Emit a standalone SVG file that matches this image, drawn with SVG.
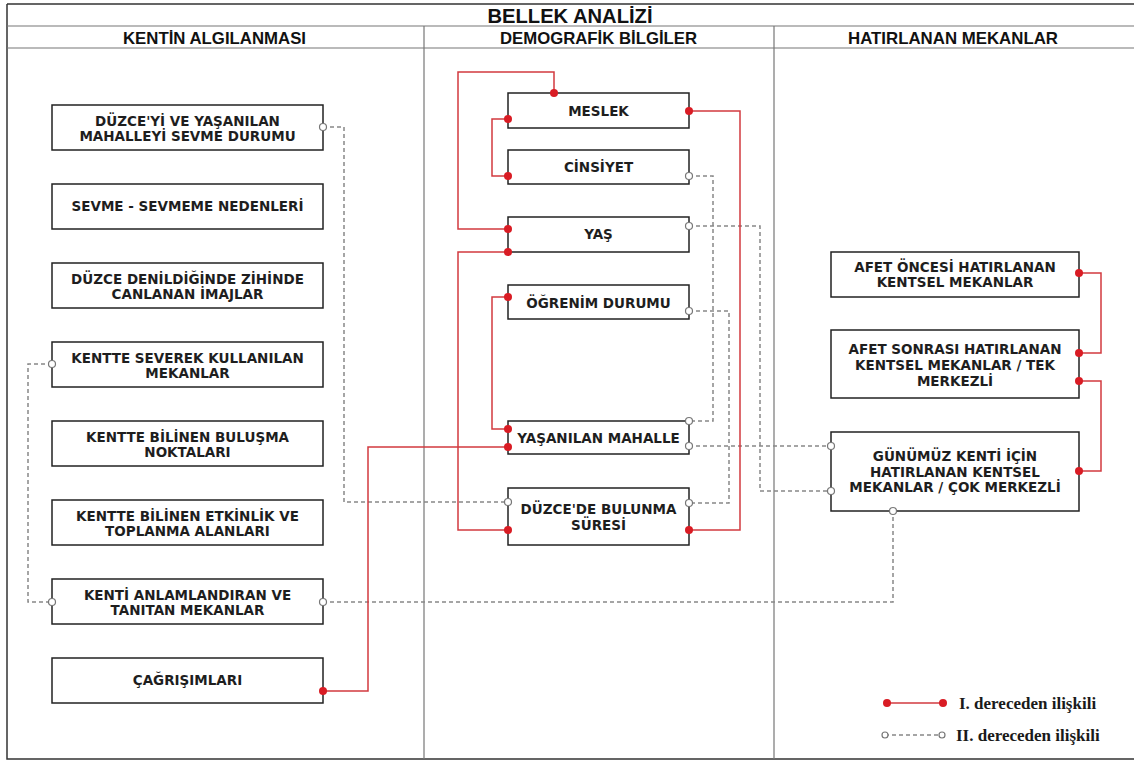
<svg xmlns="http://www.w3.org/2000/svg" width="1134" height="761" viewBox="0 0 1134 761">
<defs>
<style>
.frame{stroke:#333;stroke-width:1.5;fill:none}
.grid{stroke:#777;stroke-width:1.2;fill:none}
.hdr{font-family:"Liberation Sans",Arial,sans-serif;font-weight:bold;fill:#111;text-anchor:middle}
.box{fill:#fff;stroke:#222;stroke-width:1.5}
.lbl{font-family:"DejaVu Sans",Verdana,sans-serif;font-weight:bold;font-size:13.5px;fill:#1e1e1e;text-anchor:middle}
.red{stroke:#d23a3f;stroke-width:1.5;fill:none}
.dash{stroke:#888;stroke-width:1.5;fill:none;stroke-dasharray:4 3}
.rdot{fill:#d91c24}
.odot{fill:#fff;stroke:#777;stroke-width:1.2}
.leg{font-family:"Liberation Serif","Times New Roman",serif;font-weight:bold;font-size:17px;fill:#1a1a1a}
</style>
</defs>
<rect width="1134" height="761" fill="#fff"/>
<g id="frame">
<path class="frame" d="M7,4 H1134 M7,4 V759 H1134"/>
<path class="grid" d="M7,26 H1134 M7,48 H1134 M424,26 V759 M774,26 V759"/>
<text class="hdr" x="570" y="23" font-size="19.5" textLength="165" lengthAdjust="spacingAndGlyphs">BELLEK ANALİZİ</text>
<text class="hdr" x="214.5" y="44" font-size="16.5" textLength="183" lengthAdjust="spacingAndGlyphs">KENTİN ALGILANMASI</text>
<text class="hdr" x="598.5" y="44" font-size="16.5" textLength="197" lengthAdjust="spacingAndGlyphs">DEMOGRAFİK BİLGİLER</text>
<text class="hdr" x="953" y="44" font-size="16.5" textLength="210" lengthAdjust="spacingAndGlyphs">HATIRLANAN MEKANLAR</text>
</g>
<g id="n-sevme-durumu"><rect class="box" x="52" y="105" width="271" height="45"/><text class="lbl" x="187.5" y="125.5">DÜZCE'Yİ VE YAŞANILAN</text><text class="lbl" x="187.5" y="140.5">MAHALLEYİ SEVME DURUMU</text></g>
<g id="n-sevme-nedenleri"><rect class="box" x="52" y="184" width="271" height="45"/><text class="lbl" x="187.5" y="211">SEVME - SEVMEME NEDENLERİ</text></g>
<g id="n-imajlar"><rect class="box" x="52" y="263" width="271" height="45"/><text class="lbl" x="187.5" y="283.5">DÜZCE DENİLDİĞİNDE ZİHİNDE</text><text class="lbl" x="187.5" y="298.5">CANLANAN İMAJLAR</text></g>
<g id="n-severek"><rect class="box" x="52" y="342" width="271" height="45"/><text class="lbl" x="187.5" y="362.5">KENTTE SEVEREK KULLANILAN</text><text class="lbl" x="187.5" y="377.5">MEKANLAR</text></g>
<g id="n-bulusma"><rect class="box" x="52" y="421" width="271" height="45"/><text class="lbl" x="187.5" y="441.5">KENTTE BİLİNEN BULUŞMA</text><text class="lbl" x="187.5" y="456.5">NOKTALARI</text></g>
<g id="n-etkinlik"><rect class="box" x="52" y="500" width="271" height="45"/><text class="lbl" x="187.5" y="520.5">KENTTE BİLİNEN ETKİNLİK VE</text><text class="lbl" x="187.5" y="535.5">TOPLANMA ALANLARI</text></g>
<g id="n-anlamlandiran"><rect class="box" x="52" y="579" width="271" height="45"/><text class="lbl" x="187.5" y="599.5">KENTİ ANLAMLANDIRAN VE</text><text class="lbl" x="187.5" y="614.5">TANITAN MEKANLAR</text></g>
<g id="n-cagrisimlari"><rect class="box" x="52" y="658" width="271" height="45"/><text class="lbl" x="187.5" y="685">ÇAĞRIŞIMLARI</text></g>
<g id="n-meslek"><rect class="box" x="508" y="93" width="181" height="35"/><text class="lbl" x="598.5" y="115.5">MESLEK</text></g>
<g id="n-cinsiyet"><rect class="box" x="508" y="150" width="181" height="34"/><text class="lbl" x="598.5" y="171.5">CİNSİYET</text></g>
<g id="n-yas"><rect class="box" x="508" y="217" width="181" height="35"/><text class="lbl" x="598.5" y="238.5">YAŞ</text></g>
<g id="n-ogrenim"><rect class="box" x="508" y="285" width="181" height="34"/><text class="lbl" x="598.5" y="307.5">ÖĞRENİM DURUMU</text></g>
<g id="n-mahalle"><rect class="box" x="508" y="421" width="181" height="33"/><text class="lbl" x="598.5" y="442.5">YAŞANILAN MAHALLE</text></g>
<g id="n-sure"><rect class="box" x="508" y="488" width="181" height="57"/><text class="lbl" x="598.5" y="514">DÜZCE'DE BULUNMA</text><text class="lbl" x="598.5" y="530">SÜRESİ</text></g>
<g id="n-afet-oncesi"><rect class="box" x="831" y="252" width="248" height="45"/><text class="lbl" x="955" y="271.5">AFET ÖNCESİ HATIRLANAN</text><text class="lbl" x="955" y="286.5">KENTSEL MEKANLAR</text></g>
<g id="n-afet-sonrasi"><rect class="box" x="831" y="330" width="248" height="68"/><text class="lbl" x="955" y="354">AFET SONRASI HATIRLANAN</text><text class="lbl" x="955" y="370">KENTSEL MEKANLAR / TEK</text><text class="lbl" x="955" y="386">MERKEZLİ</text></g>
<g id="n-gunumuz"><rect class="box" x="831" y="432" width="248" height="79"/><text class="lbl" x="955" y="461">GÜNÜMÜZ KENTİ İÇİN</text><text class="lbl" x="955" y="477">HATIRLANAN KENTSEL</text><text class="lbl" x="955" y="492">MEKANLAR / ÇOK MERKEZLİ</text></g>
<g id="connectors">
<path class="dash" d="M323,127 H344 V502 H508"/>
<path class="dash" d="M52,364 H28 V602 H52"/>
<path class="dash" d="M323,602 H893 V511"/>
<path class="dash" d="M689,176 H713 V421 H689"/>
<path class="dash" d="M689,226 H760 V491 H831"/>
<path class="dash" d="M689,311 H729 V503 H689"/>
<path class="dash" d="M689,446 H831"/>
<path class="red" d="M554,93 V72 H458 V229 H508"/>
<path class="red" d="M508,119 H492 V176 H508"/>
<path class="red" d="M689,111 H740 V530 H689"/>
<path class="red" d="M508,252 H458 V530 H508"/>
<path class="red" d="M508,297 H492 V429 H508"/>
<path class="red" d="M323,691 H368 V447 H508"/>
<path class="red" d="M1079,273 H1101 V353 H1079"/>
<path class="red" d="M1079,381 H1101 V471 H1079"/>
<circle class="odot" cx="323" cy="127" r="3.5"/><circle class="odot" cx="508" cy="502" r="3.5"/>
<circle class="odot" cx="52" cy="364" r="3.5"/><circle class="odot" cx="52" cy="602" r="3.5"/>
<circle class="odot" cx="323" cy="602" r="3.5"/><circle class="odot" cx="893" cy="511" r="3.5"/>
<circle class="odot" cx="689" cy="176" r="3.5"/><circle class="odot" cx="689" cy="421" r="3.5"/>
<circle class="odot" cx="689" cy="226" r="3.5"/><circle class="odot" cx="831" cy="491" r="3.5"/>
<circle class="odot" cx="689" cy="311" r="3.5"/><circle class="odot" cx="689" cy="503" r="3.5"/>
<circle class="odot" cx="689" cy="446" r="3.5"/><circle class="odot" cx="831" cy="446" r="3.5"/>
<circle class="rdot" cx="554" cy="93" r="4"/><circle class="rdot" cx="508" cy="229" r="4"/>
<circle class="rdot" cx="508" cy="119" r="4"/><circle class="rdot" cx="508" cy="176" r="4"/>
<circle class="rdot" cx="689" cy="111" r="4"/><circle class="rdot" cx="689" cy="530" r="4"/>
<circle class="rdot" cx="508" cy="252" r="4"/><circle class="rdot" cx="508" cy="530" r="4"/>
<circle class="rdot" cx="508" cy="297" r="4"/><circle class="rdot" cx="508" cy="429" r="4"/>
<circle class="rdot" cx="323" cy="691" r="4"/><circle class="rdot" cx="508" cy="447" r="4"/>
<circle class="rdot" cx="1079" cy="273" r="4"/><circle class="rdot" cx="1079" cy="353" r="4"/>
<circle class="rdot" cx="1079" cy="381" r="4"/><circle class="rdot" cx="1079" cy="471" r="4"/>
</g>
<g id="legend">
<path class="red" d="M887,703 H943"/>
<circle class="rdot" cx="887" cy="703" r="4"/><circle class="rdot" cx="943" cy="703" r="4"/>
<text class="leg" x="959" y="708.5">I. dereceden ilişkili</text>
<path class="dash" d="M885,735 H942" stroke-dasharray="3 2"/>
<circle class="odot" cx="885" cy="735" r="3"/><circle class="odot" cx="942" cy="735" r="3"/>
<text class="leg" x="956" y="740.5">II. dereceden ilişkili</text>
</g>
</svg>
